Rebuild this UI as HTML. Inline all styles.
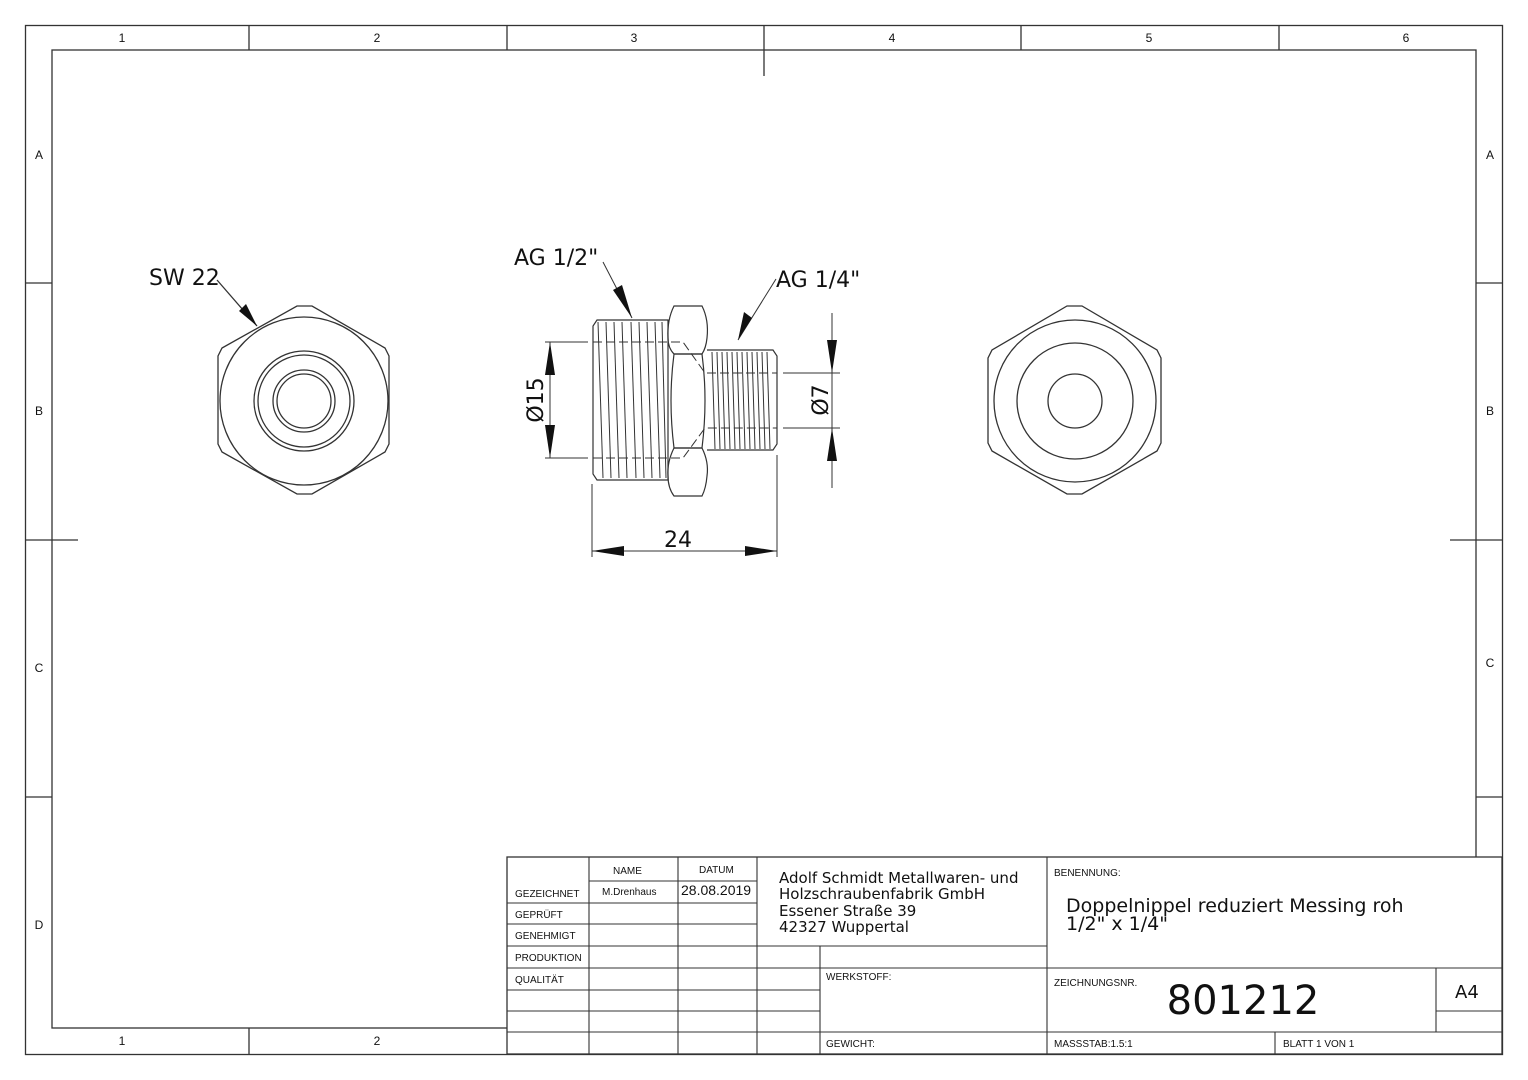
<!DOCTYPE html>
<html><head><meta charset="utf-8"><style>
html,body{margin:0;padding:0;background:#fff;}
svg{display:block;}
text{font-family:"Liberation Sans","DejaVu Sans",sans-serif;fill:#111;}
.w{font-family:"DejaVu Sans","Liberation Sans",sans-serif;}
</style></head><body>
<svg width="1528" height="1080" viewBox="0 0 1528 1080" xmlns="http://www.w3.org/2000/svg">
<g fill="none" stroke="#333" stroke-width="1.3">
<rect x="25.5" y="25.5" width="1477" height="1029"/>
<rect x="52" y="50" width="1424" height="978"/>
<line x1="249" y1="25" x2="249" y2="50"/>
<line x1="507" y1="25" x2="507" y2="50"/>
<line x1="764" y1="25" x2="764" y2="76"/>
<line x1="1021" y1="25" x2="1021" y2="50"/>
<line x1="1279" y1="25" x2="1279" y2="50"/>
<line x1="249" y1="1028" x2="249" y2="1054"/>
<line x1="25" y1="283" x2="52" y2="283"/>
<line x1="25" y1="540" x2="78" y2="540"/>
<line x1="25" y1="797" x2="52" y2="797"/>
<line x1="1476" y1="283" x2="1502" y2="283"/>
<line x1="1450" y1="540" x2="1502" y2="540"/>
<line x1="1476" y1="797" x2="1502" y2="797"/>
</g>
<g font-size="12" text-anchor="middle">
<text x="122" y="42">1</text><text x="377" y="42">2</text><text x="634" y="42">3</text>
<text x="892" y="42">4</text><text x="1149" y="42">5</text><text x="1406" y="42">6</text>
<text x="122" y="1045">1</text><text x="377" y="1045">2</text>
<text x="39" y="159">A</text><text x="39" y="415">B</text><text x="39" y="672">C</text><text x="39" y="929">D</text>
<text x="1490" y="159">A</text><text x="1490" y="415">B</text><text x="1490" y="667">C</text>
</g>

<g fill="none" stroke="#333" stroke-width="1.3">
<polygon points="297,306 312,306 385,348 389,356 389,444 385,452 312,494 297,494 222,452 218,444 218,356 222,348"/>
<circle cx="304" cy="401" r="84"/>
<circle cx="304" cy="401" r="50"/>
<circle cx="304" cy="401" r="46"/>
<circle cx="304" cy="401" r="31"/>
<circle cx="304" cy="401" r="27"/>
<line x1="217" y1="280" x2="257" y2="326"/>
</g>
<polygon points="257,326 239,311 246,304" fill="#111"/>
<text class="w" x="149" y="285" font-size="22">SW 22</text>

<g fill="none" stroke="#333" stroke-width="1.3">
<polygon points="1067,306 1082,306 1157,350 1161,358 1161,443 1157,451 1082,494 1067,494 992,451 988,443 988,358 992,350"/>
<circle cx="1075" cy="401" r="81"/>
<circle cx="1075" cy="401" r="58"/>
<circle cx="1075" cy="401" r="27"/>
</g>

<g fill="none" stroke="#333" stroke-width="1.2">
<path d="M597,320 L668,320 L668,480 L597,480 L593,474 L593,326 Z"/>
<path d="M707,350 L773,350 L777,356 L777,444 L773,450 L707,450"/>
<path d="M674,306 L702,306 Q709,320 707,338 Q706,348 702,354 L674,354 Q668,348 668,338 Q667,320 674,306 Z"/>
<path d="M674,354 L702,354 Q708,400 702,448 L674,448 Q668,400 674,354 Z"/>
<path d="M674,448 L702,448 Q709,462 707,476 Q706,488 702,496 L674,496 Q668,488 668,476 Q667,462 674,448 Z"/>
<g stroke-width="1">
<line x1="598" y1="322" x2="603" y2="478"/><line x1="606" y1="322" x2="611" y2="478"/>
<line x1="614" y1="322" x2="619" y2="478"/><line x1="622" y1="322" x2="627" y2="478"/>
<line x1="631" y1="322" x2="636" y2="478"/><line x1="639" y1="322" x2="644" y2="478"/>
<line x1="647" y1="322" x2="652" y2="478"/><line x1="655" y1="322" x2="660" y2="478"/>
<line x1="662" y1="322" x2="666" y2="478"/>
<line x1="712" y1="352" x2="715" y2="449"/><line x1="717" y1="352" x2="720" y2="449"/>
<line x1="722" y1="352" x2="725" y2="449"/><line x1="727" y1="352" x2="730" y2="449"/>
<line x1="732" y1="352" x2="735" y2="449"/><line x1="737" y1="352" x2="740" y2="449"/>
<line x1="742" y1="352" x2="745" y2="449"/><line x1="747" y1="352" x2="750" y2="449"/>
<line x1="752" y1="352" x2="755" y2="449"/><line x1="757" y1="352" x2="760" y2="449"/>
<line x1="762" y1="352" x2="765" y2="449"/><line x1="767" y1="352" x2="770" y2="449"/>
</g>
<g stroke-dasharray="9,4" stroke-width="1">
<path d="M593,342 L683,342 L705,373 L777,373"/>
<path d="M593,458 L683,458 L705,428 L777,428"/>
</g>
<g stroke-width="1">
<line x1="545" y1="342" x2="588" y2="342"/>
<line x1="545" y1="458" x2="588" y2="458"/>
<line x1="550" y1="342" x2="550" y2="458"/>
<line x1="783" y1="373" x2="840" y2="373"/>
<line x1="783" y1="428" x2="840" y2="428"/>
<line x1="832" y1="313" x2="832" y2="488"/>
<line x1="592" y1="484" x2="592" y2="557"/>
<line x1="777" y1="455" x2="777" y2="557"/>
<line x1="592" y1="551" x2="777" y2="551"/>
<line x1="603" y1="262" x2="632" y2="318"/>
<line x1="776" y1="279" x2="738" y2="340"/>
</g>
</g>
<g fill="#111">
<polygon points="550,342 545,375 555,375"/>
<polygon points="550,458 545,425 555,425"/>
<polygon points="832,373 827,340 837,340"/>
<polygon points="832,428 827,461 837,461"/>
<polygon points="592,551 624,546 624,556"/>
<polygon points="777,551 745,546 745,556"/>
<polygon points="632,318 613,290 622,285"/>
<polygon points="738,340 744,312 752,318"/>
</g>
<text class="w" x="514" y="265" font-size="22">AG 1/2"</text>
<text class="w" x="776" y="287" font-size="22">AG 1/4"</text>
<text class="w" x="678" y="547" font-size="22" text-anchor="middle">24</text>
<text class="w" transform="translate(543,400) rotate(-90)" font-size="22" text-anchor="middle">Ø15</text>
<text class="w" transform="translate(828,400) rotate(-90)" font-size="22" text-anchor="middle">Ø7</text>

<g fill="#fff" stroke="#333" stroke-width="1.3">
<rect x="507" y="857" width="995" height="197"/>
</g>
<g stroke="#333" stroke-width="1.1" fill="none">
<line x1="589" y1="857" x2="589" y2="1054"/>
<line x1="678" y1="857" x2="678" y2="1054"/>
<line x1="757" y1="857" x2="757" y2="1054"/>
<line x1="820" y1="946" x2="820" y2="1054"/>
<line x1="1047" y1="857" x2="1047" y2="1054"/>
<line x1="589" y1="881" x2="757" y2="881"/>
<line x1="507" y1="903" x2="757" y2="903"/>
<line x1="507" y1="924" x2="757" y2="924"/>
<line x1="507" y1="946" x2="1047" y2="946"/>
<line x1="507" y1="968" x2="1502" y2="968"/>
<line x1="507" y1="990" x2="820" y2="990"/>
<line x1="507" y1="1011" x2="820" y2="1011"/>
<line x1="507" y1="1032" x2="1502" y2="1032"/>
<line x1="1436" y1="968" x2="1436" y2="1032"/>
<line x1="1436" y1="1011" x2="1502" y2="1011"/>
<line x1="1275" y1="1032" x2="1275" y2="1054"/>
</g>
<g font-size="10">
<text x="613" y="874">NAME</text><text x="699" y="873">DATUM</text>
<text x="515" y="897">GEZEICHNET</text><text x="602" y="895">M.Drenhaus</text>
<text x="515" y="918">GEPRÜFT</text><text x="515" y="939">GENEHMIGT</text>
<text x="515" y="961">PRODUKTION</text><text x="515" y="983">QUALITÄT</text>
<text x="826" y="980">WERKSTOFF:</text><text x="826" y="1047">GEWICHT:</text>
<text x="1054" y="876">BENENNUNG:</text><text x="1054" y="986">ZEICHNUNGSNR.</text>
<text x="1054" y="1047">MASSSTAB:1.5:1</text><text x="1283" y="1047">BLATT 1 VON 1</text>
</g>
<text x="681" y="895" font-size="14">28.08.2019</text>
<g font-size="15" class="w">
<text class="w" x="779" y="883">Adolf Schmidt Metallwaren- und</text>
<text class="w" x="779" y="899">Holzschraubenfabrik GmbH</text>
<text class="w" x="779" y="916">Essener Straße 39</text>
<text class="w" x="779" y="932">42327 Wuppertal</text>
</g>
<text class="w" x="1066" y="912" font-size="19">Doppelnippel reduziert Messing roh</text>
<text class="w" x="1066" y="930" font-size="19">1/2" x 1/4"</text>
<text class="w" x="1455" y="998" font-size="18">A4</text>
<text class="w" x="1243" y="1014" font-size="40" text-anchor="middle">801212</text>
</svg>
</body></html>
